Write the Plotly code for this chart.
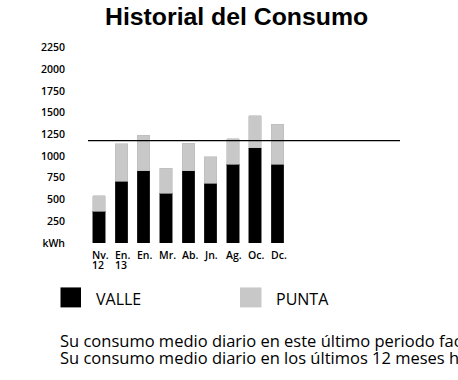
import plotly.graph_objects as go

months = ["Nv.", "En.", "En.", "Mr.", "Ab.", "Jn.", "Ag.", "Oc.", "Dc."]
years = ["12", "13", "", "", "", "", "", "", ""]
valle = [367, 710, 832, 574, 832, 687, 905, 1096, 905]
punta = [175, 429, 406, 287, 318, 303, 295, 368, 459]
average = 1177
y_tickvals = [0, 250, 500, 750, 1000, 1250, 1500, 1750, 2000, 2250]
y_ticktext = ["kWh", "250", "500", "750", "1000", "1250", "1500", "1750", "2000", "2250"]
legend_names = ["VALLE", "PUNTA"]
colors = ["#000000", "#c8c8c8"]
footer = [
    "Su consumo medio diario en este último periodo facturado ha sido de",
    "Su consumo medio diario en los últimos 12 meses ha sido de",
]
title = "Historial del Consumo"

# body margin is removed (post_script), so the figure fills the whole window
W, H = 458, 380
L, R, T, B = 88, 58, 43.2, 136.5
PW, PH = W - L - R, H - T - B

def px_x(p):
    return (p - L) / PW

def px_y(p):
    return (H - B - p) / PH

xs = list(range(len(months)))
fig = go.Figure()
fig.add_trace(go.Bar(x=xs, y=valle, name=legend_names[0],
                     marker=dict(color=colors[0], line=dict(width=0.6, color="#333")), width=0.56))
fig.add_trace(go.Bar(x=xs, y=punta, name=legend_names[1],
                     marker=dict(color=colors[1], line=dict(width=0.6, color="#bbb")), width=0.56))

fig.add_shape(type="line", xref="paper", yref="y", x0=0, x1=1, y0=average, y1=average,
              line=dict(color="black", width=1.2))

tick_font = dict(family="Open Sans", size=10.5, color="black", weight=600)
annotations = []
for i, (m, yr) in enumerate(zip(months, years)):
    annotations.append(dict(x=i - 0.28, xref="x", y=px_y(256), yref="paper", text=m, xshift=-2.5,
                            xanchor="left", yanchor="middle", showarrow=False, font=tick_font))
    if yr:
        annotations.append(dict(x=i - 0.28, xref="x", y=px_y(266), yref="paper", text=yr, xshift=-2.5,
                                xanchor="left", yanchor="middle", showarrow=False, font=tick_font))

annotations.append(dict(x=px_x(236.5), xref="paper", y=px_y(16.5), yref="paper", text=title,
                        xanchor="center", yanchor="middle", showarrow=False,
                        font=dict(family="Liberation Sans", size=24.8, color="black", weight="bold")))

leg = [(60.5, 81, 93.5), (240, 261.5, 274)]
for (x0, x1, tx), name, c in zip(leg, legend_names, colors):
    fig.add_shape(type="rect", xref="paper", yref="paper", x0=px_x(x0), x1=px_x(x1),
                  y0=px_y(308), y1=px_y(288), fillcolor=c, line=dict(width=0))
    annotations.append(dict(x=px_x(tx), xref="paper", y=px_y(299.5), yref="paper", text=name,
                            xanchor="left", yanchor="middle", showarrow=False,
                            font=dict(family="Open Sans", size=16, color="black")))

for line, yc in zip(footer, [341, 358.5]):
    annotations.append(dict(x=px_x(58), xref="paper", y=px_y(yc), yref="paper", text=line,
                            xanchor="left", yanchor="middle", showarrow=False,
                            font=dict(family="Open Sans", size=16.5, color="black")))

fig.update_layout(
    width=W, height=H, barmode="stack", showlegend=False,
    margin=dict(l=L, r=R, t=T, b=B, pad=0),
    paper_bgcolor="white", plot_bgcolor="white",
    annotations=annotations,
    xaxis=dict(range=[-0.5, 13.5], showticklabels=False, showgrid=False, zeroline=False,
               showline=False, ticks=""),
    yaxis=dict(range=[0, 2300], tickvals=y_tickvals, ticktext=y_ticktext, showgrid=False,
               zeroline=False, showline=False, ticks="", ticklabelstandoff=22,
               tickfont=tick_font),
)
fig.write_html("out.html", config={"displayModeBar": False},
               post_script="document.body.style.margin='0px';")
